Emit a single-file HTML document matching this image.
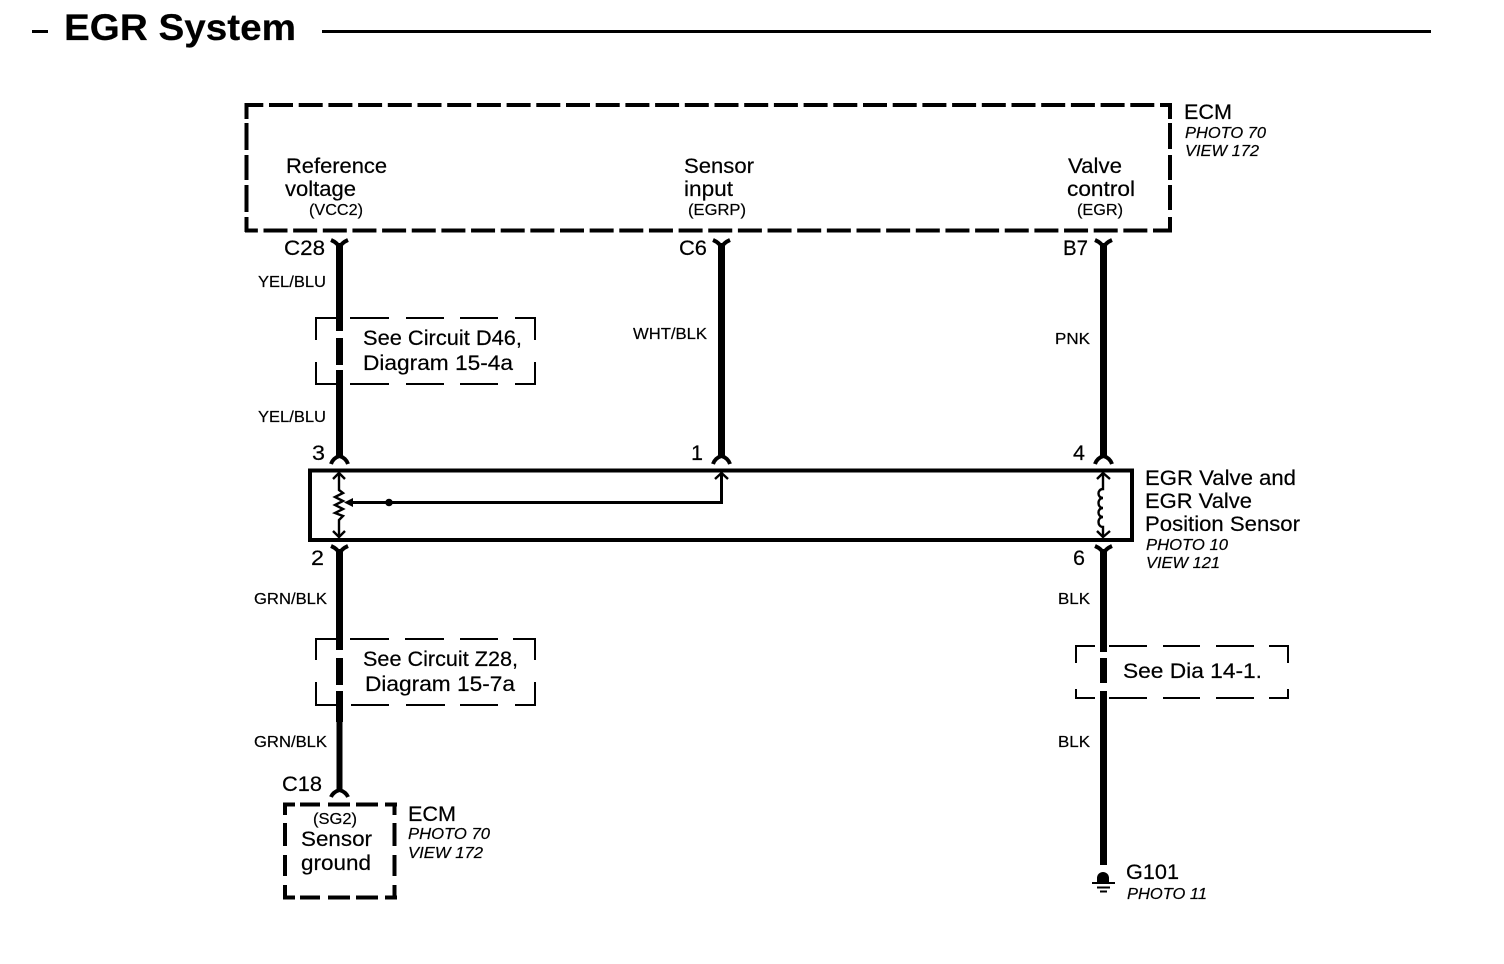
<!DOCTYPE html>
<html>
<head>
<meta charset="utf-8">
<style>
html,body{margin:0;padding:0;background:#fff}
svg{display:block}
text{font-family:"Liberation Sans",sans-serif;fill:#000;stroke:#000;stroke-width:.2}
.n{font-size:21px}
.s{font-size:16px}
.i{font-size:16px;font-style:italic}
.w{fill:none;stroke:#000;stroke-width:7}
.t{fill:none;stroke:#000;stroke-width:2}
.c{fill:none;stroke:#000;stroke-width:2.4}
.m{fill:none;stroke:#000;stroke-width:4}
.h{fill:none;stroke:#000;stroke-width:4;stroke-linejoin:round}
</style>
</head>
<body>
<svg width="1504" height="964" viewBox="0 0 1504 964" xmlns="http://www.w3.org/2000/svg">
<!-- title -->
<rect x="32" y="30" width="16" height="3"/>
<rect x="322" y="30" width="1109" height="3"/>
<text x="64" y="40" font-size="37.5" font-weight="bold" textLength="232" lengthAdjust="spacingAndGlyphs">EGR System</text>

<!-- ECM box -->
<path class="m" stroke-dasharray="24 5.7" stroke-dashoffset="5.7" d="M245 105H1172"/>
<path class="m" stroke-dasharray="24 5.65" stroke-dashoffset="11.15" d="M245 230.5H1172"/>
<path class="m" d="M246.5 103V119M246.5 123V150M246.5 155V180M246.5 185V212M246.5 217V232"/>
<path class="m" d="M1170 103V119M1170 123V149M1170 155V180M1170 185V210M1170 217V232"/>
<text class="n" x="1184" y="119" textLength="48" lengthAdjust="spacingAndGlyphs">ECM</text>
<text class="i" x="1185" y="138" textLength="81" lengthAdjust="spacingAndGlyphs">PHOTO 70</text>
<text class="i" x="1185" y="156" textLength="74" lengthAdjust="spacingAndGlyphs">VIEW 172</text>
<text class="n" x="286" y="173" textLength="101" lengthAdjust="spacingAndGlyphs">Reference</text>
<text class="n" x="285" y="196" textLength="71" lengthAdjust="spacingAndGlyphs">voltage</text>
<text class="s" x="309" y="215" textLength="54" lengthAdjust="spacingAndGlyphs">(VCC2)</text>
<text class="n" x="684" y="173" textLength="70" lengthAdjust="spacingAndGlyphs">Sensor</text>
<text class="n" x="684" y="196" textLength="49" lengthAdjust="spacingAndGlyphs">input</text>
<text class="s" x="688" y="215" textLength="58" lengthAdjust="spacingAndGlyphs">(EGRP)</text>
<text class="n" x="1068" y="173" textLength="54" lengthAdjust="spacingAndGlyphs">Valve</text>
<text class="n" x="1067" y="196" textLength="68" lengthAdjust="spacingAndGlyphs">control</text>
<text class="s" x="1077" y="215" textLength="46" lengthAdjust="spacingAndGlyphs">(EGR)</text>

<!-- pin labels top -->
<text class="n" x="284" y="255" textLength="41" lengthAdjust="spacingAndGlyphs">C28</text>
<text class="n" x="679" y="255" textLength="28" lengthAdjust="spacingAndGlyphs">C6</text>
<text class="n" x="1063" y="255" textLength="25" lengthAdjust="spacingAndGlyphs">B7</text>

<!-- wires -->
<path class="w" d="M339.5 243V331M339.5 338V365M339.5 370V458"/>
<path class="w" d="M721.5 243V458"/>
<path class="w" d="M1103.5 243V458"/>
<path class="w" d="M339.5 549V650M339.5 658V685M339.5 691V722"/>
<path class="w" style="stroke-width:6" d="M339.5 722V792"/>
<path class="w" d="M1103.5 549V652M1103.5 658V683M1103.5 691V865"/>

<!-- connector forks upper -->
<path class="h" d="M331 240Q338 243 339.5 248Q341 243 348 240"/>
<path class="h" d="M713 240Q720 243 721.5 248Q723 243 730 240"/>
<path class="h" d="M1095 240Q1102 243 1103.5 248Q1105 243 1112 240"/>
<!-- connector forks at module top -->
<path class="h" d="M331 464Q333 458 339.5 456Q346 458 348 464"/>
<path class="h" d="M713 464Q715 458 721.5 456Q728 458 730 464"/>
<path class="h" d="M1095 464Q1097 458 1103.5 456Q1110 458 1112 464"/>
<!-- forks at module bottom -->
<path class="h" d="M331 546Q338 549 339.5 554Q341 549 348 546"/>
<path class="h" d="M1095 546Q1102 549 1103.5 554Q1105 549 1112 546"/>
<!-- fork at sensor box -->
<path class="h" d="M331 797Q333 792 339.5 790Q346 792 348 797"/>

<!-- wire labels -->
<text class="s" x="258" y="287" textLength="68" lengthAdjust="spacingAndGlyphs">YEL/BLU</text>
<text class="s" x="258" y="422" textLength="68" lengthAdjust="spacingAndGlyphs">YEL/BLU</text>
<text class="s" x="633" y="339" textLength="74" lengthAdjust="spacingAndGlyphs">WHT/BLK</text>
<text class="s" x="1055" y="344" textLength="35" lengthAdjust="spacingAndGlyphs">PNK</text>
<text class="s" x="254" y="604" textLength="73" lengthAdjust="spacingAndGlyphs">GRN/BLK</text>
<text class="s" x="254" y="747" textLength="73" lengthAdjust="spacingAndGlyphs">GRN/BLK</text>
<text class="s" x="1058" y="604" textLength="32" lengthAdjust="spacingAndGlyphs">BLK</text>
<text class="s" x="1058" y="747" textLength="32" lengthAdjust="spacingAndGlyphs">BLK</text>

<!-- D46 box -->
<path class="t" d="M316 340V318H336M350 318H389M406 318H444M460 318H498M515 318H535V340M316 362V384H336M350 384H389M406 384H444M460 384H498M515 384H535V362"/>
<text class="n" x="363" y="345" textLength="159" lengthAdjust="spacingAndGlyphs">See Circuit D46,</text>
<text class="n" x="363" y="370" textLength="150" lengthAdjust="spacingAndGlyphs">Diagram 15-4a</text>

<!-- Z28 box -->
<path class="t" d="M316 660V639H336M350 639H389M405 639H444M460 639H498M513 639H535V660M316 682V705H336M351 705H389M406 705H445M460 705H498M515 705H535V682"/>
<text class="n" x="363" y="666" textLength="155" lengthAdjust="spacingAndGlyphs">See Circuit Z28,</text>
<text class="n" x="365" y="691" textLength="150" lengthAdjust="spacingAndGlyphs">Diagram 15-7a</text>

<!-- Dia 14-1 box -->
<path class="t" d="M1076 663V646H1095M1109 646H1147M1163 646H1200M1216 646H1254M1269 646H1288V663M1076 689V698H1095M1109 698H1147M1163 698H1200M1216 698H1254M1269 698H1288V689"/>
<text class="n" x="1123" y="678" textLength="139" lengthAdjust="spacingAndGlyphs">See Dia 14-1.</text>

<!-- module -->
<rect x="310" y="470.5" width="822" height="69.5" class="m"/>
<text class="n" x="312" y="460" textLength="13" lengthAdjust="spacingAndGlyphs">3</text>
<text class="n" x="691" y="460" textLength="12" lengthAdjust="spacingAndGlyphs">1</text>
<text class="n" x="1073" y="460" textLength="12" lengthAdjust="spacingAndGlyphs">4</text>
<text class="n" x="311" y="565" textLength="13" lengthAdjust="spacingAndGlyphs">2</text>
<text class="n" x="1073" y="565" textLength="12" lengthAdjust="spacingAndGlyphs">6</text>
<text class="n" x="1145" y="485" textLength="151" lengthAdjust="spacingAndGlyphs">EGR Valve and</text>
<text class="n" x="1145" y="508" textLength="107" lengthAdjust="spacingAndGlyphs">EGR Valve</text>
<text class="n" x="1145" y="531" textLength="155" lengthAdjust="spacingAndGlyphs">Position Sensor</text>
<text class="i" x="1146" y="550" textLength="82" lengthAdjust="spacingAndGlyphs">PHOTO 10</text>
<text class="i" x="1146" y="568" textLength="74" lengthAdjust="spacingAndGlyphs">VIEW 121</text>

<!-- potentiometer -->
<path class="c" d="M339 473V490L343 493L335 497L343 501L335 505L343 509L335 513L343 516L339 520V537"/>
<path class="c" d="M333 479L339 473L345 479M333 531L339 537L345 531"/>
<path fill="none" stroke="#000" stroke-width="3" d="M349 502.5H721.5V474"/>
<path d="M344 502.5L353 498V507Z"/>
<circle cx="389" cy="502.5" r="3.8"/>
<path class="c" d="M715 479L721.5 473L728 479"/>

<!-- coil -->
<path class="c" d="M1103 473V489C1097 489 1097 498 1103 498C1097 498 1097 508 1103 508C1097 508 1097 517 1103 517C1097 517 1097 527 1103 527V537"/>
<path class="c" d="M1097 479L1103 473L1110 479M1097 531L1103 537L1110 531"/>

<!-- Sensor ground ECM -->
<path class="m" d="M283 804.5H295M300 804.5H320M328 804.5H350M356 804.5H378M385 804.5H397M283 897.5H295M300 897.5H320M328 897.5H350M356 897.5H378M385 897.5H397M285 803V815M285 823V846M285 855V876M285 885V899M394.5 803V815M394.5 823V846M394.5 855V876M394.5 885V899"/>
<text class="n" x="282" y="791" textLength="40" lengthAdjust="spacingAndGlyphs">C18</text>
<text class="s" x="313" y="824" textLength="44" lengthAdjust="spacingAndGlyphs">(SG2)</text>
<text class="n" x="301" y="846" textLength="71" lengthAdjust="spacingAndGlyphs">Sensor</text>
<text class="n" x="301" y="870" textLength="70" lengthAdjust="spacingAndGlyphs">ground</text>
<text class="n" x="408" y="821" textLength="48" lengthAdjust="spacingAndGlyphs">ECM</text>
<text class="i" x="408" y="839" textLength="82" lengthAdjust="spacingAndGlyphs">PHOTO 70</text>
<text class="i" x="408" y="858" textLength="75" lengthAdjust="spacingAndGlyphs">VIEW 172</text>

<!-- ground -->
<path d="M1097 882V878A6 6 0 0 1 1109 878V882Z"/>
<rect x="1092" y="882" width="23" height="2"/>
<rect x="1097" y="886.5" width="13" height="2"/>
<rect x="1100" y="890.5" width="7" height="2"/>
<text class="n" x="1126" y="879" textLength="53" lengthAdjust="spacingAndGlyphs">G101</text>
<text class="i" x="1127" y="899" textLength="80" lengthAdjust="spacingAndGlyphs">PHOTO 11</text>
</svg>
</body>
</html>
